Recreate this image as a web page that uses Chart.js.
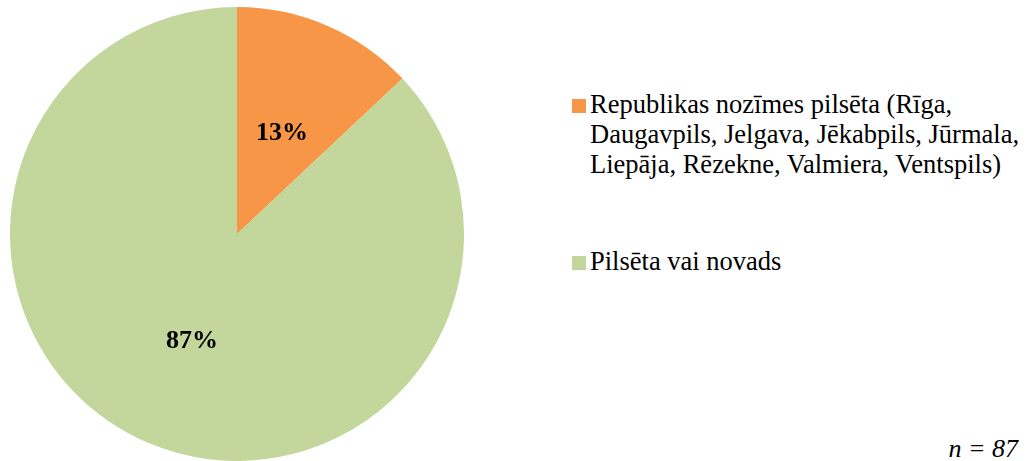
<!DOCTYPE html>
<html>
<head>
<meta charset="utf-8">
<script src="https://cdn.jsdelivr.net/npm/chart.js@4/dist/chart.umd.min.js"></script>
<style>
  html, body { margin:0; padding:0; background:#fff; width:1030px; height:461px; overflow:hidden; font-family:"Liberation Serif","Times New Roman",serif; }
  #pieBox { position:absolute; left:10px; top:7px; width:454px; height:454px; }
  #legend { position:absolute; left:572px; top:89px; font-size:26.5px; line-height:30px; color:#000; }
  .item { position:relative; padding-left:18px; }
  .sw { position:absolute; left:0; top:10px; width:14px; height:14px; }
  #note { position:absolute; right:12px; top:434px; font-size:26px; font-style:italic; color:#000; }
</style>
</head>
<body>
<div id="pieBox"><canvas id="c"></canvas></div>
<div id="legend"></div>
<div id="note">n = 87</div>
<script>
const categories = ["Republikas nozīmes pilsēta (Rīga,\nDaugavpils, Jelgava, Jēkabpils, Jūrmala,\nLiepāja, Rēzekne, Valmiera, Ventspils)", "Pilsēta vai novads"];
const percentValues = [13, 87];
const sliceColors = ["#F79646", "#C3D69B"];

// legend
const leg = document.getElementById('legend');
categories.forEach((c, i) => {
  const d = document.createElement('div');
  d.className = 'item';
  d.style.marginBottom = i === 0 ? '67px' : '0';
  const s = document.createElement('span');
  s.className = 'sw';
  s.style.background = sliceColors[i];
  d.appendChild(s);
  c.split('\n').forEach((ln) => {
    const t = document.createElement('div');
    t.textContent = ln;
    d.appendChild(t);
  });
  leg.appendChild(d);
});

const labelPlugin = {
  id: 'pctLabels',
  afterDatasetsDraw(chart) {
    const ctx = chart.ctx;
    const meta = chart.getDatasetMeta(0);
    ctx.save();
    ctx.font = 'bold 26px "Liberation Serif", serif';
    ctx.fillStyle = '#000';
    ctx.textAlign = 'center';
    ctx.textBaseline = 'middle';
    meta.data.forEach((arc, i) => {
      const p = arc.getProps(['x','y','startAngle','endAngle','outerRadius'], true);
      const mid = (p.startAngle + p.endAngle) / 2;
      const r = p.outerRadius * 0.5;
      ctx.fillText(percentValues[i] + '%', p.x + Math.cos(mid) * r, p.y + Math.sin(mid) * r + 3);
    });
    ctx.restore();
  }
};

new Chart(document.getElementById('c'), {
  type: 'pie',
  data: {
    labels: categories,
    datasets: [{ data: percentValues, backgroundColor: sliceColors, borderWidth: 0 }]
  },
  options: {
    responsive: true,
    maintainAspectRatio: false,
    animation: false,
    layout: { padding: 0 },
    plugins: { legend: { display: false }, tooltip: { enabled: false } }
  },
  plugins: [labelPlugin]
});
</script>
</body>
</html>
